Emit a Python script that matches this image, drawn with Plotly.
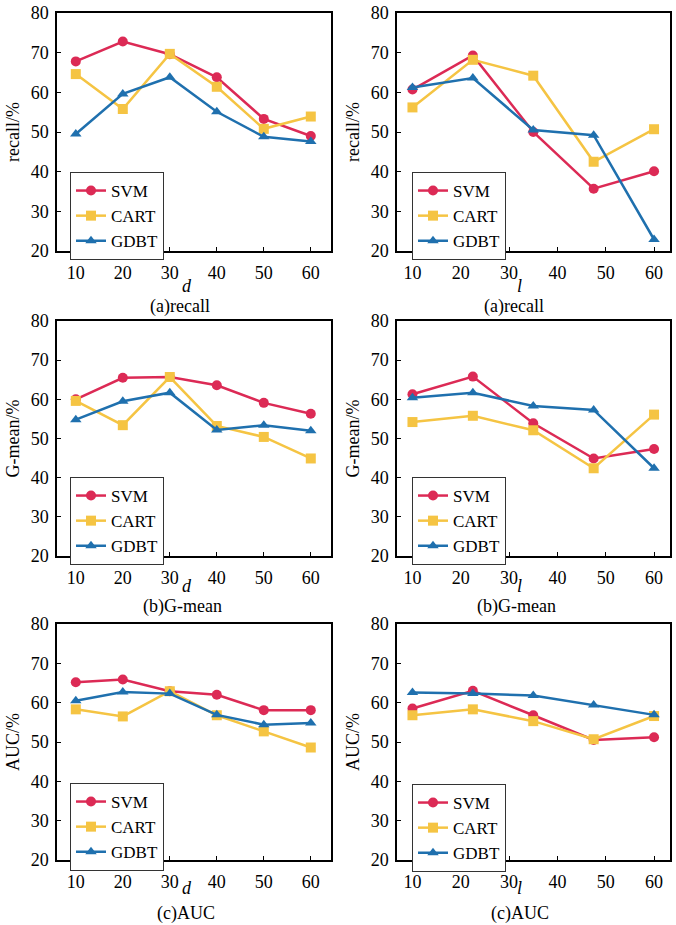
import plotly.graph_objects as go

# ---- data ----
d_vals = [10, 20, 30, 40, 50, 60]
l_vals = [10, 22.5, 35, 47.5, 60]
x_ticks = [10, 20, 30, 40, 50, 60]
y_ticks = [20, 30, 40, 50, 60, 70, 80]
series_names = ["SVM", "CART", "GDBT"]

recall_d_svm = [67.8, 72.8, 69.6, 63.8, 53.3, 49.0]
recall_d_cart = [64.6, 55.8, 69.7, 61.4, 50.8, 53.9]
recall_d_gdbt = [49.5, 59.6, 63.8, 55.1, 48.8, 47.6]

recall_l_svm = [60.7, 69.3, 50.0, 35.7, 40.1]
recall_l_cart = [56.2, 68.2, 64.2, 42.5, 50.7]
recall_l_gdbt = [61.2, 63.6, 50.5, 49.2, 22.9]

gmean_d_svm = [60.0, 65.5, 65.7, 63.6, 59.1, 56.3]
gmean_d_cart = [59.6, 53.4, 65.7, 53.2, 50.4, 44.9]
gmean_d_gdbt = [54.8, 59.5, 61.7, 52.2, 53.4, 52.0]

gmean_l_svm = [61.3, 65.8, 53.9, 44.9, 47.3]
gmean_l_cart = [54.2, 55.8, 52.1, 42.4, 56.1]
gmean_l_gdbt = [60.4, 61.7, 58.3, 57.3, 42.4]

auc_d_svm = [65.2, 65.9, 62.9, 62.0, 58.1, 58.1]
auc_d_cart = [58.3, 56.5, 62.9, 56.8, 52.7, 48.6]
auc_d_gdbt = [60.5, 62.7, 62.3, 56.9, 54.4, 54.8]

auc_l_svm = [58.5, 63.0, 56.8, 50.5, 51.2]
auc_l_cart = [56.8, 58.3, 55.3, 50.7, 56.6]
auc_l_gdbt = [62.6, 62.3, 61.8, 59.4, 56.9]

y_titles = ["recall/%", "G-mean/%", "AUC/%"]
captions = ["(a)recall", "(a)recall", "(b)G-mean", "(b)G-mean", "(c)AUC", "(c)AUC"]
x_titles = ["d", "l"]

# ---- style ----
W, H = 676, 925
FONT = "Liberation Serif, Times New Roman, serif"
colors = ["#dc2a55", "#f5c443", "#1f70ae"]
symbols = ["circle", "square", "triangle-up"]

panels = [
    (d_vals, [recall_d_svm, recall_d_cart, recall_d_gdbt], 0, 0),
    (l_vals, [recall_l_svm, recall_l_cart, recall_l_gdbt], 0, 1),
    (d_vals, [gmean_d_svm, gmean_d_cart, gmean_d_gdbt], 1, 0),
    (l_vals, [gmean_l_svm, gmean_l_cart, gmean_l_gdbt], 1, 1),
    (d_vals, [auc_d_svm, auc_d_cart, auc_d_gdbt], 2, 0),
    (l_vals, [auc_l_svm, auc_l_cart, auc_l_gdbt], 2, 1),
]

col_px = [(57, 331), (397, 670)]
row_px = [(13, 251), (321, 556), (624, 860)]
xranges = [[6.0, 64.3], [6.8, 63.3]]
legend_px = [[(70, 172), (412, 172)], [(70, 477), (412, 477)], [(70, 783), (412, 784)]]
caption_px = [[(180, 307), (514, 307)], [(182, 606), (516, 606)], [(186, 913), (520, 913)]]
xtitle_px = [[(187, 286), (519, 286)], [(187, 586), (519, 586)], [(187, 888), (519, 888)]]

fig = go.Figure()
layout = dict(
    width=W, height=H, autosize=False,
    margin=dict(l=0, r=0, t=0, b=0, pad=0, autoexpand=False),
    paper_bgcolor="white", plot_bgcolor="white",
    font=dict(family=FONT, size=18, color="black"),
    annotations=[],
)

for i, (xv, ys, r, c) in enumerate(panels):
    n = i + 1
    xa = "x" if n == 1 else f"x{n}"
    ya = "y" if n == 1 else f"y{n}"
    lg = "legend" if n == 1 else f"legend{n}"
    for k in range(3):
        fig.add_trace(go.Scatter(
            x=xv, y=ys[k], name=series_names[k], mode="lines+markers",
            line=dict(color=colors[k], width=2.5),
            marker=dict(symbol=symbols[k], size=10, color=colors[k]),
            xaxis=xa, yaxis=ya, legend=lg,
        ))
    x0, x1 = col_px[c]
    y0, y1 = row_px[r]
    axis_common = dict(
        showline=True, mirror=True, linecolor="black", linewidth=1.5,
        ticks="inside", ticklen=4, tickcolor="black", tickwidth=1,
        showgrid=False, zeroline=False, automargin=False,
        tickfont=dict(family=FONT, size=18, color="black"),
    )
    layout["xaxis" if n == 1 else f"xaxis{n}"] = dict(
        domain=[x0 / W, x1 / W], range=xranges[c], tickvals=x_ticks,
        anchor=ya, ticklabelstandoff=5,
        **axis_common,
    )
    layout["yaxis" if n == 1 else f"yaxis{n}"] = dict(
        domain=[1 - y1 / H, 1 - y0 / H], range=[20, 80], tickvals=y_ticks,
        anchor=xa, ticklabelstandoff=3,
        title=dict(text=y_titles[r], standoff=6,
                   font=dict(family=FONT, size=18, color="black")),
        **axis_common,
    )
    lx, ly = legend_px[r][c]
    layout[lg] = dict(
        x=lx / W, y=1 - ly / H, xanchor="left", yanchor="top",
        bgcolor="white", bordercolor="#333333", borderwidth=1,
        font=dict(family=FONT, size=17, color="black"),
        tracegroupgap=0, itemwidth=30,
    )
    tx, ty = xtitle_px[r][c]
    layout["annotations"].append(dict(
        text=f"<i>{x_titles[c]}</i>", x=tx / W, y=1 - ty / H, xref="paper", yref="paper",
        showarrow=False, xanchor="center", yanchor="middle",
        font=dict(family=FONT, size=18, color="black"),
    ))
    cx, cy = caption_px[r][c]
    layout["annotations"].append(dict(
        text=captions[i], x=cx / W, y=1 - cy / H, xref="paper", yref="paper",
        showarrow=False, xanchor="center", yanchor="middle",
        font=dict(family=FONT, size=18, color="black"),
    ))

fig.update_layout(**layout)
fig.write_html("out.html", config={"displayModeBar": False},
               post_script="document.body.style.margin='0px';document.body.style.overflow='hidden';")
